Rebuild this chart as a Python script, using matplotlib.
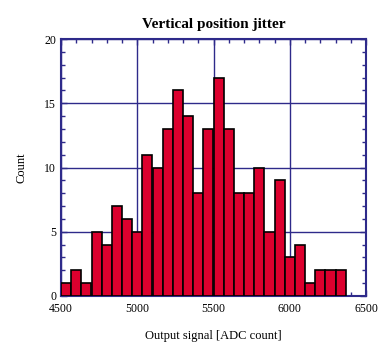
import matplotlib
matplotlib.use("Agg")
import matplotlib.pyplot as plt
from matplotlib.ticker import MultipleLocator

counts = [1, 2, 1, 5, 4, 7, 6, 5, 11, 10, 13, 16, 14, 8, 13, 17, 13, 8, 8, 10, 5, 9, 3, 4, 1, 2, 2, 2]
bin_start = 4500
bin_width = 2000 / 30
edges = [bin_start + i * bin_width for i in range(len(counts) + 1)]

plt.rcParams['font.family'] = ['Liberation Serif', 'DejaVu Serif']
frame = '#2e2a8a'

fig = plt.figure(figsize=(3.8, 3.44), dpi=100)
ax = fig.add_axes([61/380, 1 - 296/344, (366-61)/380, (296-39)/344])

ax.bar(edges[:-1], counts, width=bin_width, align='edge', color='#dc002e',
       edgecolor='black', linewidth=1.2, zorder=3)

ax.set_xlim(4500, 6500)
ax.set_ylim(0, 20)
ax.xaxis.set_major_locator(MultipleLocator(500))
ax.xaxis.set_minor_locator(MultipleLocator(100))
ax.yaxis.set_major_locator(MultipleLocator(5))
ax.yaxis.set_minor_locator(MultipleLocator(1))
ax.grid(True, which='major', color=frame, linewidth=1.0, zorder=1)
ax.set_axisbelow(True)
for s in ax.spines.values():
    s.set_color(frame)
    s.set_linewidth(1.5)
ax.tick_params(which='both', direction='in', top=True, right=True, color=frame, labelsize=8.5)
ax.tick_params(which='major', length=4, width=1)
ax.tick_params(which='minor', length=3, width=1)
ax.tick_params(axis='x', pad=5)

ax.set_title('Vertical position jitter', fontsize=11, fontweight='bold', pad=8)
ax.set_xlabel('Output signal [ADC count]', fontsize=9, labelpad=11)
ax.set_ylabel('Count', fontsize=9, labelpad=12)

fig.savefig('out.png', dpi=100)
